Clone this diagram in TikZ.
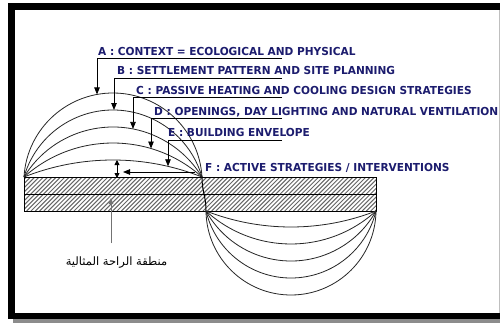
\documentclass[tikz,border=0pt]{standalone}
\usepackage{fontspec}
\setmainfont{DejaVu Sans}
\newfontfamily\labfont[FakeStretch=0.96]{DejaVu Sans}
\newfontfamily\arabicfont[Script=Arabic]{DejaVu Sans}
\TeXXeTstate=1
\usetikzlibrary{arrows.meta}
\definecolor{navy}{RGB}{28,28,110}
\tikzset{
  lab/.style={font=\labfont\bfseries\fontsize{11}{13}\selectfont, text=navy, inner sep=0pt, anchor=base west},
  lead/.style={draw=black, line width=0.8pt, -{Triangle[length=7pt,width=5.5pt]}},
  dbl/.style={draw=black, line width=0.8pt, {Triangle[length=5pt,width=5pt]}-{Triangle[length=5pt,width=5pt]}},
  arcline/.style={draw=black!85, line width=0.8pt},
  hatchline/.style={draw=black!60, line width=1pt},
  grayarrow/.style={draw=black!55, line width=1pt, -{Triangle[length=6pt,width=4.5pt]}}
}
\begin{document}
\begin{tikzpicture}[x=1pt,y=-1pt]
\useasboundingbox (0,0) rectangle (500,324);
% frame
\fill[black!45] (13,8) rectangle (510,323);
\fill[black] (8,3) rectangle (510,319);
\fill[white] (15,10) rectangle (510,313);
\draw[black!25, line width=1pt] (499,10) -- (499,313);
% slab hatching
\begin{scope}
  \clip (24,177) rectangle (376,211);
  \foreach \i in {0,...,90} { \draw[hatchline] ({-12+4.3*\i},211) -- ++(36,-36); }
\end{scope}
\draw[black, line width=0.8pt] (24,177) rectangle (376,211);
\draw[black, line width=0.8pt] (24,194) -- (376,194);
% upper arcs
\foreach \s in {84,67,50,34,17} {
  \pgfmathsetmacro\R{(7921+\s*\s)/(2*\s)}
  \pgfmathsetmacro\g{asin((\R-\s)/\R)}
  \draw[arcline] (24,177) arc[start angle={180+\g}, end angle={360-\g}, radius=\R];
}
% lower arcs
\foreach \s in {16,33,50,67,84} {
  \pgfmathsetmacro\R{(7225+\s*\s)/(2*\s)}
  \pgfmathsetmacro\g{asin((\R-\s)/\R)}
  \draw[arcline] (206,211) arc[start angle={180-\g}, end angle={\g}, radius=\R];
}
\draw[black, line width=1pt] (202,177) .. controls (202,192) and (206,196) .. (206,211);
% labels
\node[lab] (A) at (98,55) {A : CONTEXT = ECOLOGICAL AND PHYSICAL};
\node[lab] (B) at (117,74) {B : SETTLEMENT PATTERN AND SITE PLANNING};
\node[lab] (C) at (136,94) {C : PASSIVE HEATING AND COOLING DESIGN STRATEGIES};
\node[lab] (D) at (154,115) {D : OPENINGS, DAY LIGHTING AND NATURAL VENTILATION};
\node[lab] (E) at (168,136.5) {E : BUILDING ENVELOPE};
\node[lab] (F) at (205,171.5) {F : ACTIVE STRATEGIES / INTERVENTIONS};
% leader coordinates
\coordinate (aS) at (282,58.5);  \coordinate (aT) at (97,94.4);
\coordinate (bS) at (282,78);  \coordinate (bT) at (114,110);
\coordinate (cS) at (282,97.5);  \coordinate (cT) at (133,128.9);
\coordinate (dS) at (282,118); \coordinate (dT) at (151,148.5);
\coordinate (eS) at (282,140); \coordinate (eT) at (168,166.3);
\draw[lead] (aS) -| (aT);
\draw[lead] (bS) -| (bT);
\draw[lead] (cS) -| (cT);
\draw[lead] (dS) -| (dT);
\draw[lead] (eS) -| (eT);
\coordinate (fS) at (195,172); \coordinate (fT) at (123,172);
\draw[lead] (fS) -- (fT);
\coordinate (gTop) at (117,160); \coordinate (gBot) at (117,178);
\draw[dbl] (gTop) -- (gBot);
% arabic label
\node[font=\arabicfont\fontsize{11.5}{13}\selectfont, inner sep=1pt] (ar) at (116.5,263) {\beginR منطقة الراحة المثالية\endR};
\coordinate (arB) at (111,243); \coordinate (arT) at (111,198);
\draw[grayarrow] (arB) -- (arT);
\end{tikzpicture}
\end{document}
